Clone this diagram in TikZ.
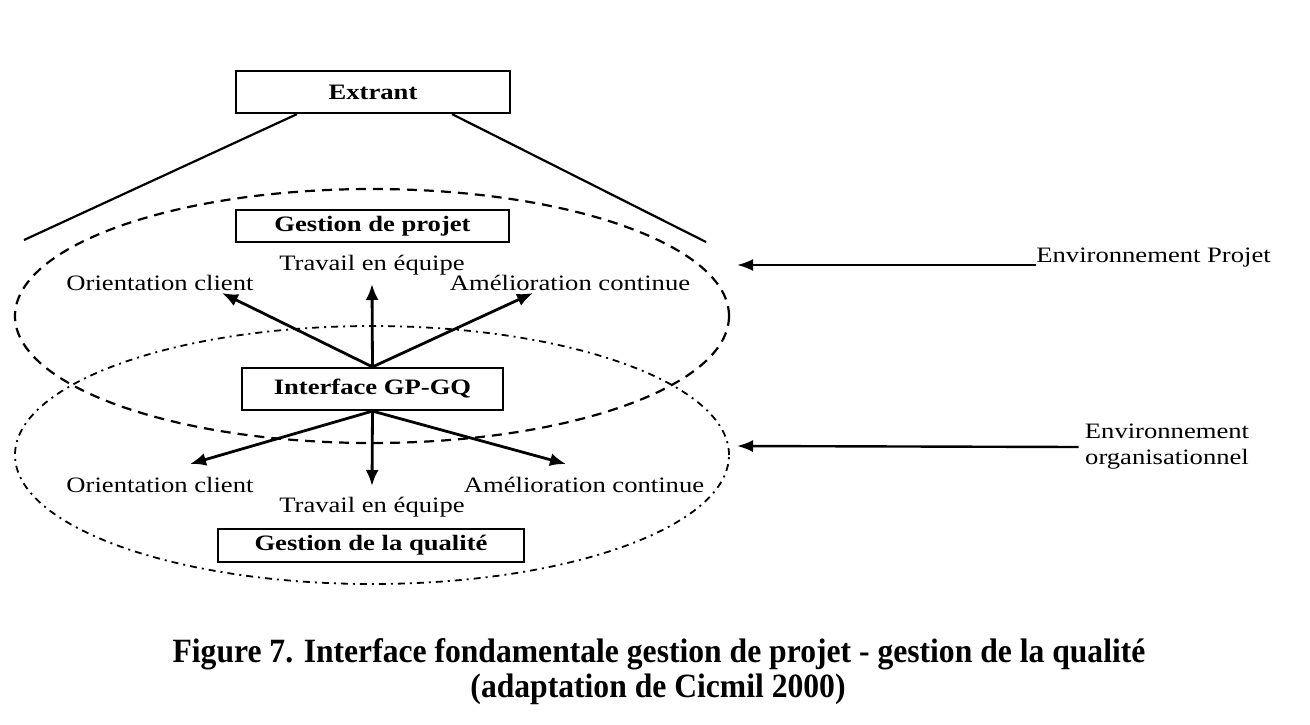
\documentclass[tikz,border=0pt]{standalone}
\usepackage{fontspec}
\setmainfont{Liberation Serif}[FakeStretch=1.21]
\newfontfamily\capfont{Liberation Serif}[FakeStretch=0.93]
\usetikzlibrary{arrows.meta,shapes.geometric}

\begin{document}
\begin{tikzpicture}[x=0.5pt,y=-0.5pt,
    lbl/.style={font=\fontsize{11}{13}\selectfont, inner sep=0pt},
    titlebox/.style={draw, line width=1.1pt, fill=white, inner sep=0pt,
        font=\fontsize{11}{13}\selectfont\bfseries},
    flow/.style={line width=1.4pt, -{Latex[length=8pt,width=6.5pt]}},
    envarrow/.style={line width=1.2pt, -{Latex[length=8pt,width=6pt]}},
    projline/.style={line width=1.1pt, dash pattern=on 5pt off 3.5pt},
    orgline/.style={line width=0.9pt, dash pattern=on 3.5pt off 2.5pt on 1pt off 2.5pt}]
    \useasboundingbox (0,0) rectangle (1310,724);

    % Environments
    \node[ellipse, draw, projline, minimum width=357pt, minimum height=127pt] (envp) at (372,316) {};
    \node[ellipse, draw, orgline, minimum width=357pt, minimum height=129pt] (envo) at (372,455) {};

    % Boxes
    \node[titlebox, minimum width=137pt, minimum height=21pt] (ext) at (373,92) {Extrant};
    \node[titlebox, minimum width=136.5pt, minimum height=16pt] (gp) at (372.5,226) {Gestion de projet};
    \node[titlebox, minimum width=130.5pt, minimum height=21pt] (gpgq) at (372.5,389) {Interface GP-GQ};
    \node[titlebox, minimum width=153pt, minimum height=16.5pt] (gq) at (371,545.5) {Gestion de la qualit\'e};

    % Funnel from the output
    \coordinate (fl) at (24,240);
    \coordinate (fr) at (706,242);
    \draw[line width=1.1pt] ([xshift=-38pt]ext.south) -- (fl);
    \draw[line width=1.1pt] ([xshift=39.5pt]ext.south) -- (fr);

    % Labels, project side
    \node[lbl, anchor=base] (teT) at (372,270) {Travail en \'equipe};
    \node[lbl, anchor=base] (ocT) at (160,290) {Orientation client};
    \node[lbl, anchor=base] (acT) at (570,290) {Am\'elioration continue};
    % Labels, quality side
    \node[lbl, anchor=base] (ocB) at (160,492) {Orientation client};
    \node[lbl, anchor=base] (acB) at (584,492) {Am\'elioration continue};
    \node[lbl, anchor=base] (teB) at (372,512) {Travail en \'equipe};

    % Arrow tips
    \coordinate (ocTt) at (222,293);
    \coordinate (teTt) at (372,284);
    \coordinate (acTt) at (533,293);
    \coordinate (ocBt) at (190,464);
    \coordinate (teBt) at (372,486);
    \coordinate (acBt) at (566,464);

    % Arrows out of the interface
    \draw[flow] (gpgq.north) -- (ocTt);
    \draw[flow] (gpgq.north) -- (teTt);
    \draw[flow] (gpgq.north) -- (acTt);
    \draw[flow] (gpgq.south) -- (ocBt);
    \draw[flow] (gpgq.south) -- (teBt);
    \draw[flow] (gpgq.south) -- (acBt);

    % Environment labels
    \node[lbl, anchor=base west] (ep) at (1036,262) {Environnement Projet};
    \node[lbl, align=center, inner sep=3pt] (eo) at (1167,447) {Environnement\\organisationnel};
    \coordinate (eptip) at (737,265);
    \coordinate (eotip) at (737,446);
    \draw[envarrow] ([yshift=-1.5pt]ep.base west) -- (eptip);
    \draw[envarrow] (eo.west) -- (eotip);

    % Caption
    \node[anchor=base, inner sep=0pt, font=\capfont\fontsize{17}{19}\selectfont\bfseries] (cap1) at (659,662)
        {Figure 7. Interface fondamentale gestion de projet - gestion de la qualit\'e};
    \node[anchor=base, inner sep=0pt, font=\capfont\fontsize{17}{19}\selectfont\bfseries] (cap2) at (658,697)
        {(adaptation de Cicmil 2000)};
\end{tikzpicture}
\end{document}
